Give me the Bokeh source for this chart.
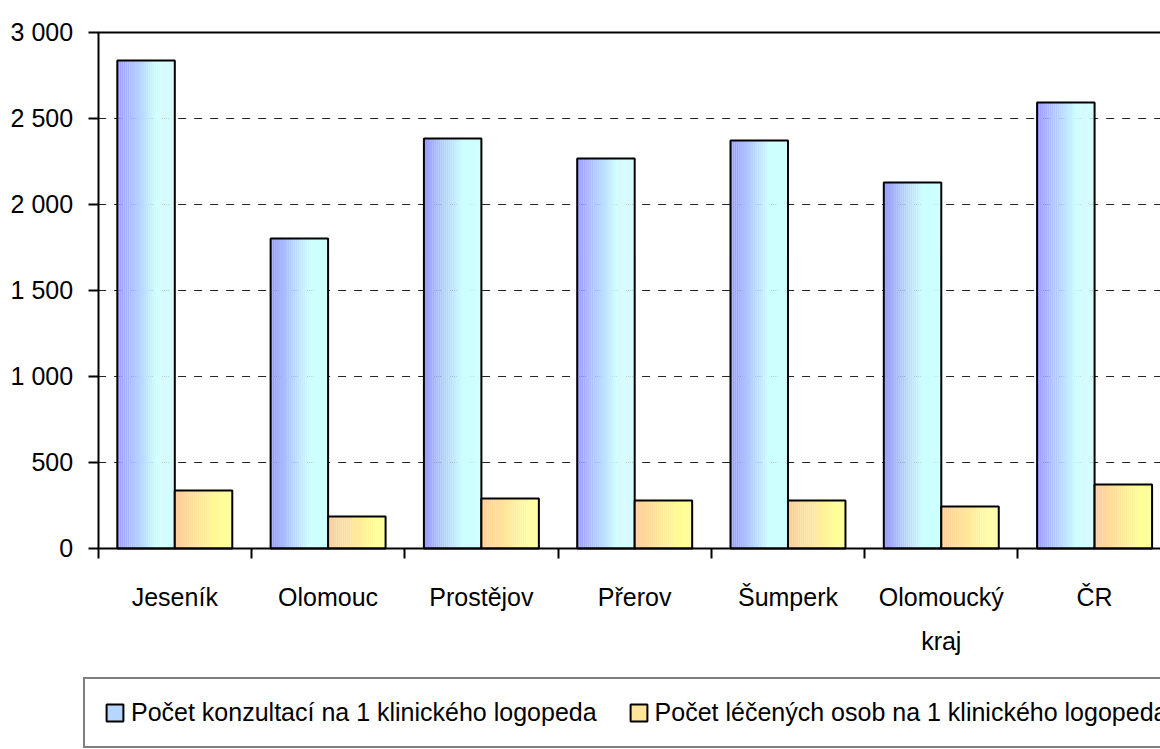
from bokeh.plotting import figure
from bokeh.models import (Range1d, FixedTicker, ColumnDataSource, Legend, LegendItem)
from bokeh.embed import file_html
from bokeh.resources import INLINE

# ---- data ----
categories = ["Jeseník", "Olomouc", "Prostějov", "Přerov", "Šumperk", "Olomoucký\nkraj", "ČR"]
konzultace = [2837, 1802, 2384, 2267, 2372, 2128, 2593]
leceni = [337, 186, 291, 279, 279, 244, 372]
series_names = ["Počet konzultací na 1 klinického logopeda",
                "Počet léčených osob na 1 klinického logopeda"]
y_ticks = [0, 500, 1000, 1500, 2000, 2500, 3000]
y_tick_labels = ["0", "500", "1 000", "1 500", "2 000", "2 500", "3 000"]

# ---- style / layout ----
FONT = "Liberation Sans"
FS = "25px"
BAR_W = 0.375
GAP = 0.125
N_SLICES = 28
BLUE_L, BLUE_R, BLUE_REACH = (0x99, 0x99, 0xFF), (0xCC, 0xFF, 0xFF), 0.68
ORNG_L, ORNG_R, ORNG_REACH = (0xFF, 0xCC, 0x99), (0xFF, 0xFF, 0x99), 0.85
X_START, X_END = -0.637, 6.93
Y_START, Y_END = -1168.6, 3186.0


def lerp_color(c0, c1, t):
    return "#%02x%02x%02x" % tuple(int(round(a + (b - a) * t)) for a, b in zip(c0, c1))


p = figure(width=1160, height=749, output_backend="svg", toolbar_location=None,
           x_range=Range1d(X_START, X_END), y_range=Range1d(Y_START, Y_END),
           min_border_left=0, min_border_top=0, min_border_right=0, min_border_bottom=0)
p.outline_line_color = None
p.background_fill_color = "white"
p.border_fill_color = "white"
p.xgrid.visible = False
p.ygrid.visible = False

# grid lines (from the tick values)
p.segment(x0=0, x1=X_END, y0=y_ticks[1:-1], y1=y_ticks[1:-1],
          line_color="#222222", line_width=1, line_dash="8 8")
p.segment(x0=0, x1=X_END, y0=[y_ticks[-1]], y1=[y_ticks[-1]],
          line_color="black", line_width=2)


def draw_bars(values, offset, c_left, c_right, reach):
    lefts, rights, tops, colors = [], [], [], []
    for i, v in enumerate(values):
        x0 = i + offset
        for k in range(N_SLICES):
            t = (k + 0.5) / N_SLICES
            lefts.append(x0 + BAR_W * k / N_SLICES)
            rights.append(x0 + BAR_W * (k + 1) / N_SLICES + 0.0005)
            tops.append(v)
            colors.append(lerp_color(c_left, c_right, min(t / reach, 1.0)))
    src = ColumnDataSource(dict(left=lefts, right=rights, top=tops, color=colors))
    p.quad(left="left", right="right", bottom=0, top="top", fill_color="color",
           line_color=None, source=src)
    osrc = ColumnDataSource(dict(left=[i + offset for i in range(len(values))],
                                 right=[i + offset + BAR_W for i in range(len(values))],
                                 top=values))
    p.quad(left="left", right="right", bottom=0, top="top", fill_color=None,
           line_color="black", line_width=2, source=osrc)


draw_bars(konzultace, GAP, BLUE_L, BLUE_R, BLUE_REACH)
draw_bars(leceni, GAP + BAR_W, ORNG_L, ORNG_R, ORNG_REACH)

# y axis
yax = p.yaxis[0]
yax.fixed_location = 0
yax.bounds = (y_ticks[0], y_ticks[-1])
yax.ticker = FixedTicker(ticks=y_ticks)
yax.major_label_overrides = {t: l for t, l in zip(y_ticks, y_tick_labels)}
yax.axis_line_width = 2
yax.axis_line_color = "black"
yax.major_tick_out = 10
yax.major_tick_in = 0
yax.major_tick_line_width = 2
yax.minor_tick_line_color = None
yax.major_label_standoff = 15
yax.major_label_text_font = FONT
yax.major_label_text_font_size = FS
yax.major_label_text_color = "black"

# x axis
xax = p.xaxis[0]
xax.fixed_location = 0
xax.bounds = (0, len(categories))
centers = [i + 0.5 for i in range(len(categories))]
xax.ticker = FixedTicker(ticks=centers, minor_ticks=list(range(len(categories) + 1)))
xax.major_label_overrides = {c: n for c, n in zip(centers, categories)}
xax.axis_line_width = 2
xax.axis_line_color = "black"
xax.major_tick_line_color = None
xax.major_tick_out = 0
xax.major_tick_in = 0
xax.minor_tick_out = 10
xax.minor_tick_in = 0
xax.minor_tick_line_width = 2
xax.minor_tick_line_color = "black"
xax.major_label_standoff = 25
xax.major_label_text_font = FONT
xax.major_label_text_font_size = FS
xax.major_label_text_color = "black"
xax.major_label_text_line_height = 1.55

# legend swatches: zero-size proxies at the origin (hidden under the axes)
sw1 = p.quad(left=[0], right=[0], bottom=[0], top=[0], fill_color="#b6d6ff",
             line_color="black", line_width=2)
sw2 = p.quad(left=[0], right=[0], bottom=[0], top=[0], fill_color="#ffe49a",
             line_color="black", line_width=2)
legend = Legend(items=[LegendItem(label=series_names[0], renderers=[sw1]),
                       LegendItem(label=series_names[1], renderers=[sw2])],
                orientation="horizontal", location=(83, 1),
                label_text_font=FONT, label_text_font_size=FS, label_text_color="black",
                glyph_width=21, glyph_height=21, label_standoff=6, spacing=31,
                padding=19, margin=0,
                border_line_color="black", border_line_width=2,
                background_fill_color="white", background_fill_alpha=1.0)
p.add_layout(legend, "center")

open("out.html", "w").write(file_html(p, INLINE))
